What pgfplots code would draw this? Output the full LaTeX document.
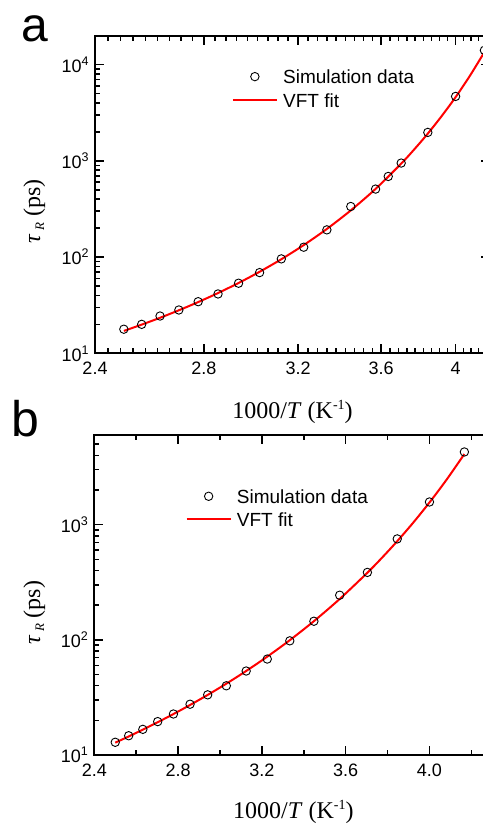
\documentclass[border=0pt]{standalone}
\usepackage{fontspec}
\setmainfont{Liberation Sans}
\newfontfamily\serif{Liberation Serif}
\usepackage{pgfplots}
\pgfplotsset{compat=1.18}
\newcommand{\ep}[1]{10\raisebox{7pt}{\fontsize{12.5}{12.5}\selectfont #1}}
\pgfplotsset{
  common/.style={
    scale only axis,
    tick align=inside,
    major tick length=9pt,
    minor tick length=5pt,
    axis line style={line width=2pt},
    every tick/.append style={black, line width=1.5pt},
    tick label style={font=\fontsize{18}{18}\selectfont},
    xticklabel style={yshift=-5pt},
    yticklabel style={xshift=-3pt},
    label style={font=\fontsize{24}{24}\selectfont},
    legend cell align=left,
    legend image code/.code={\draw[mark repeat=2,mark phase=2,##1] plot coordinates {(0pt,0pt) (22pt,0pt) (44pt,0pt)};},
    clip=true,
  },
  datastyle/.style={only marks, mark=o, mark size=4.2pt, mark options={black, line width=0.9pt}},
  fitstyle/.style={red, line width=2pt, smooth, no markers},
}
\begin{document}
\begin{tikzpicture}[x=1pt,y=1pt]
\begin{axis}[common,
  at={(95pt,-353.3pt)}, anchor=south west,
  width=395pt, height=317.6pt,
  xmode=log, ymode=log,
  xmin=2.4, xmax=4.2, ymin=10, ymax=20000,
  xtick={2.4,2.8,3.2,3.6,4}, xticklabels={2.4,2.8,3.2,3.6,4},
  minor xtick={2.4444,2.4889,2.5333,2.5778,2.6222,2.6667,2.7111,2.7556,
    2.8444,2.8889,2.9333,2.9778,3.0222,3.0667,3.1111,3.1556,
    3.2444,3.2889,3.3333,3.3778,3.4222,3.4667,3.5111,3.5556,
    3.6444,3.6889,3.7333,3.7778,3.8222,3.8667,3.9111,3.9556,
    4.0444,4.0889,4.1333,4.1778},
  ytick={10,100,1000,10000},
  yticklabels={\ep{1},\ep{2},\ep{3},\ep{4}},
  minor ytick={20,30,40,50,60,70,80,90,200,300,400,500,600,700,800,900,2000,3000,4000,5000,6000,7000,8000,9000},
  xlabel={\serif 1000/\textit{T} (K\raisebox{9pt}{\fontsize{14}{14}\selectfont -1})},
  ylabel={\serif\itshape τ\,\raisebox{-4pt}{\fontsize{13}{13}\selectfont R}\upshape\ (ps)},
  xlabel style={at={(axis description cs:0.5,0)}, anchor=base, yshift=-65pt},
  ylabel style={at={(axis description cs:-0.139,0.4465)}, anchor=base},
  legend style={draw=none, fill=none, at={(axis description cs:0.346,0.8938)}, anchor=north west,
    inner sep=0pt, font=\fontsize{19}{19}\selectfont,
    nodes={inner sep=0pt, text height=14pt, text depth=0pt}, row sep=9.7pt, column sep=5.3pt},
]
\addplot[datastyle] coordinates {
(2.5,17.8) (2.5641,20.0) (2.6316,24.4) (2.7027,28.2) (2.7778,34.4) (2.8571,41.4)
(2.9412,53.5) (3.0303,69.0) (3.125,95.8) (3.2258,126.7) (3.3333,191.9) (3.4483,335.5)
(3.5714,509) (3.6364,689) (3.7037,949) (3.8462,1977) (4.0,4677) (4.1667,14100)
};
\addlegendentry{Simulation data}
\addplot[fitstyle] coordinates {
(2.5,17.09) (2.5641,19.87) (2.6316,23.40) (2.7027,28.00) (2.7778,34.07) (2.8571,42.31)
(2.9412,53.80) (3.0303,70.34) (3.125,94.98) (3.2258,133.3) (3.3333,196.2) (3.4483,305.8)
(3.5714,511.4) (3.7037,936.1) (3.7736,1320) (3.8462,1922) (3.9216,2908) (4.0,4598)
(4.0816,7650) (4.1667,13516)
};
\addlegendentry{VFT fit}
\end{axis}

\begin{axis}[common,
  at={(94.3pt,-755pt)}, anchor=south west,
  width=398pt, height=320pt,
  ymode=log,
  xmin=2.4, xmax=4.3, ymin=10, ymax=6000,
  xtick={2.4,2.8,3.2,3.6,4.0}, xticklabels={2.4,2.8,3.2,3.6,4.0},
  minor xtick={2.6,3.0,3.4,3.8,4.2},
  ytick={10,100,1000},
  yticklabels={\ep{1},\ep{2},\ep{3}},
  minor ytick={20,30,40,50,60,70,80,90,200,300,400,500,600,700,800,900,2000,3000,4000,5000},
  xlabel={\serif 1000/\textit{T} (K\raisebox{9pt}{\fontsize{14}{14}\selectfont -1})},
  ylabel={\serif\itshape τ\,\raisebox{-4pt}{\fontsize{13}{13}\selectfont R}\upshape\ (ps)},
  xlabel style={at={(axis description cs:0.5,0)}, anchor=base, yshift=-63.8pt},
  ylabel style={at={(axis description cs:-0.136,0.445)}, anchor=base},
  legend style={draw=none, fill=none, at={(axis description cs:0.229,0.831)}, anchor=north west,
    inner sep=0pt, font=\fontsize{19}{19}\selectfont,
    nodes={inner sep=0pt, text height=14pt, text depth=0pt}, row sep=9pt, column sep=5.3pt},
]
\addplot[datastyle] coordinates {
(2.5,12.9) (2.5641,14.7) (2.6316,16.7) (2.7027,19.5) (2.7778,22.7) (2.8571,27.6)
(2.9412,33.3) (3.0303,39.9) (3.125,53.6) (3.2258,68.1) (3.3333,98) (3.4483,145)
(3.5714,244) (3.7037,385) (3.8462,752) (4.0,1573) (4.1667,4275)
};
\addlegendentry{Simulation data}
\addplot[fitstyle] coordinates {
(2.5,12.80) (2.5641,14.49) (2.6316,16.60) (2.7027,19.26) (2.7778,22.68) (2.8571,27.18)
(2.9412,33.24) (3.0303,41.62) (3.125,53.63) (3.2258,71.48) (3.3333,99.3) (3.4483,145.2)
(3.5714,226.2) (3.7037,382.4) (3.7736,516.4) (3.8462,718.6) (3.9216,1036) (4.0,1557)
(4.0816,2455) (4.1667,4101)
};
\addlegendentry{VFT fit}
\end{axis}

\node[anchor=base west, inner sep=0pt, font=\fontsize{48}{48}\selectfont] at (21pt,-41.7pt) {a};
\node[anchor=base west, inner sep=0pt, font=\fontsize{50}{50}\selectfont] at (11.7pt,-436.7pt) {b};
\pgfresetboundingbox
\path[use as bounding box] (0pt,0pt) rectangle (482pt,-824pt);
\end{tikzpicture}
\end{document}
